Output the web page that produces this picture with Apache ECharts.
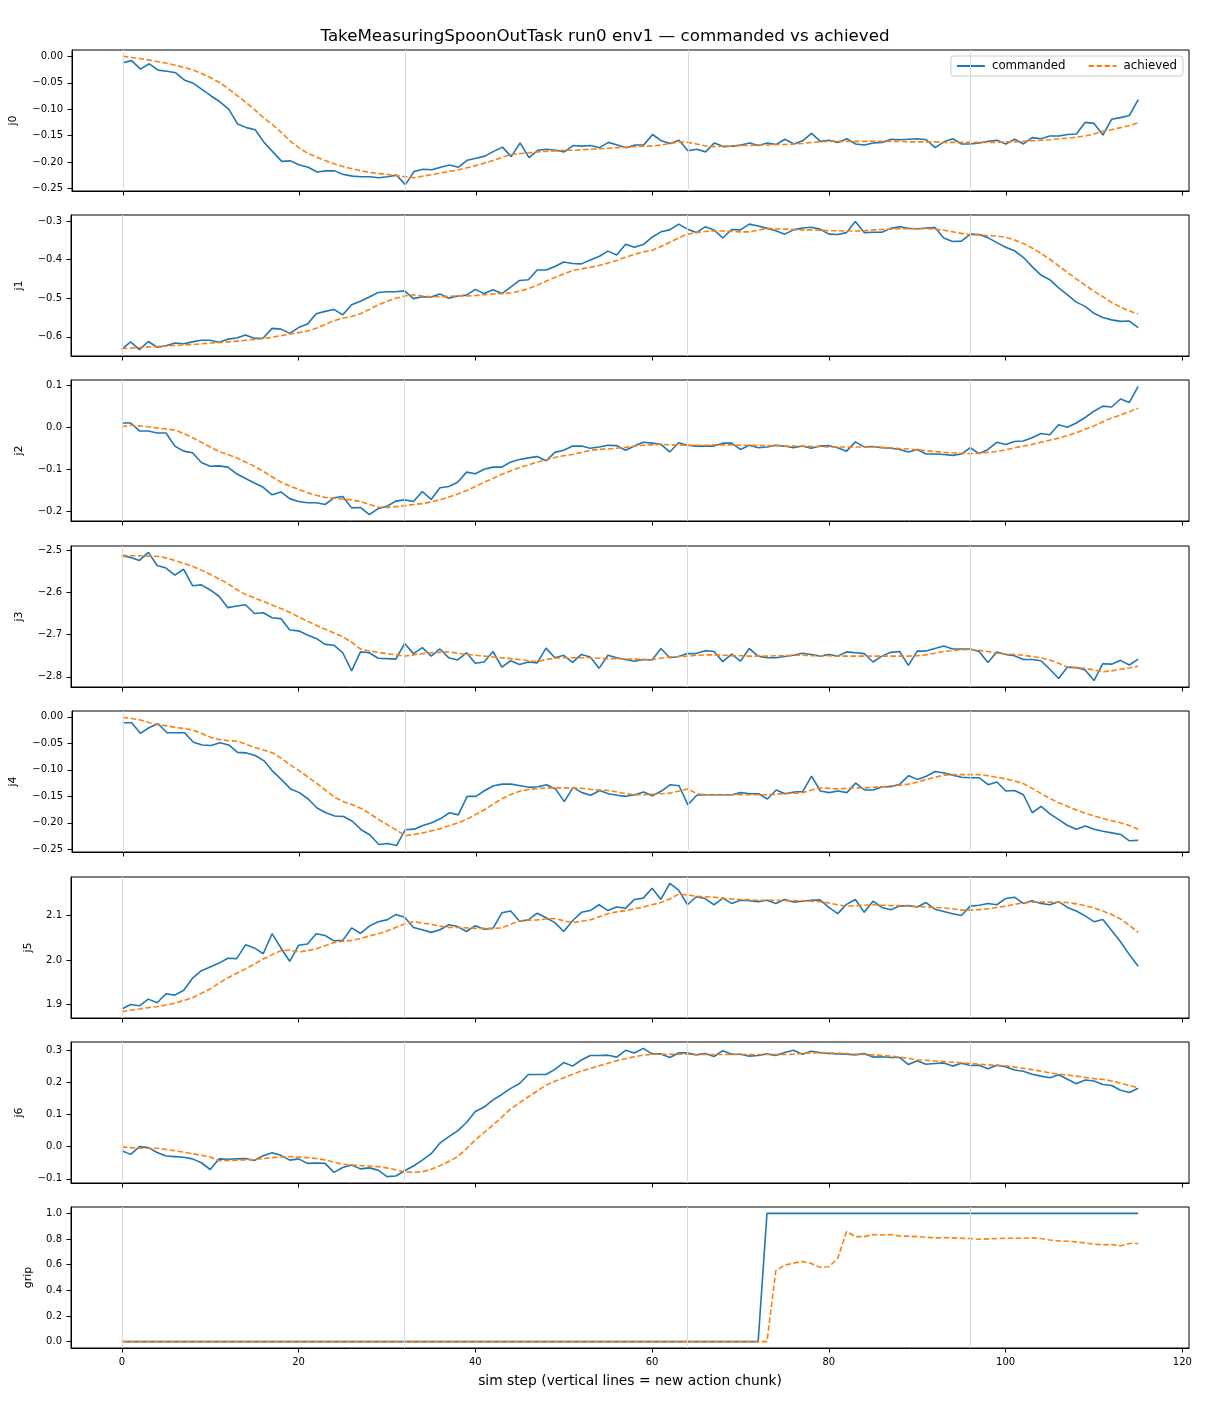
<!DOCTYPE html>
<html><head><meta charset="utf-8">
<script src="https://cdn.jsdelivr.net/npm/echarts@6/dist/echarts.min.js"></script>
<style>html,body{margin:0;padding:0;background:#fff}#c{width:1210px;height:1408px}</style>
</head><body><div id="c"></div>
<script>
const titleText = 'TakeMeasuringSpoonOutTask run0 env1 — commanded vs achieved';
const xLabel = 'sim step (vertical lines = new action chunk)';
const panelNames = ['j0','j1','j2','j3','j4','j5','j6','grip'];
const chunkStarts = [0, 32, 64, 96];
const xTicks = [0, 20, 40, 60, 80, 100, 120];

const j0Cmd = [-0.012,-0.008,-0.024,-0.014,-0.026,-0.028,-0.031,-0.045,-0.051,-0.063,
-0.075,-0.086,-0.100,-0.128,-0.135,-0.139,-0.163,-0.181,-0.199,-0.198,
-0.206,-0.210,-0.219,-0.217,-0.217,-0.224,-0.227,-0.228,-0.228,-0.230,
-0.228,-0.225,-0.243,-0.218,-0.214,-0.215,-0.210,-0.206,-0.210,-0.197,
-0.193,-0.189,-0.180,-0.172,-0.190,-0.164,-0.192,-0.178,-0.176,-0.178,
-0.181,-0.169,-0.170,-0.169,-0.173,-0.163,-0.168,-0.173,-0.168,-0.168,
-0.148,-0.160,-0.165,-0.159,-0.179,-0.176,-0.181,-0.164,-0.171,-0.170,
-0.168,-0.164,-0.169,-0.164,-0.167,-0.157,-0.166,-0.160,-0.146,-0.161,
-0.159,-0.163,-0.156,-0.166,-0.168,-0.164,-0.163,-0.157,-0.158,-0.157,
-0.156,-0.158,-0.173,-0.162,-0.156,-0.166,-0.166,-0.164,-0.161,-0.159,
-0.166,-0.157,-0.166,-0.154,-0.156,-0.151,-0.151,-0.148,-0.147,-0.125,
-0.127,-0.149,-0.119,-0.116,-0.112,-0.082];
const j0Ach = [0.000,-0.002,-0.004,-0.007,-0.010,-0.013,-0.017,-0.021,-0.026,-0.033,
-0.041,-0.050,-0.062,-0.075,-0.088,-0.102,-0.117,-0.130,-0.145,-0.161,
-0.174,-0.184,-0.191,-0.198,-0.204,-0.209,-0.213,-0.217,-0.220,-0.222,
-0.224,-0.226,-0.228,-0.230,-0.227,-0.224,-0.221,-0.218,-0.215,-0.211,
-0.207,-0.202,-0.197,-0.191,-0.186,-0.184,-0.183,-0.181,-0.180,-0.179,
-0.178,-0.178,-0.177,-0.176,-0.175,-0.174,-0.173,-0.172,-0.171,-0.170,
-0.170,-0.168,-0.165,-0.162,-0.163,-0.166,-0.170,-0.171,-0.170,-0.170,
-0.169,-0.169,-0.168,-0.168,-0.167,-0.167,-0.166,-0.165,-0.163,-0.162,
-0.161,-0.161,-0.161,-0.161,-0.161,-0.161,-0.161,-0.161,-0.161,-0.162,
-0.162,-0.162,-0.162,-0.163,-0.163,-0.163,-0.163,-0.163,-0.163,-0.163,
-0.162,-0.162,-0.161,-0.160,-0.159,-0.158,-0.156,-0.155,-0.153,-0.151,
-0.147,-0.142,-0.139,-0.135,-0.131,-0.126];

const j1Cmd = [-0.632,-0.613,-0.633,-0.612,-0.627,-0.623,-0.616,-0.618,-0.613,-0.609,
-0.609,-0.614,-0.606,-0.603,-0.595,-0.604,-0.603,-0.578,-0.580,-0.591,
-0.576,-0.567,-0.540,-0.534,-0.529,-0.543,-0.517,-0.508,-0.497,-0.485,
-0.483,-0.483,-0.481,-0.501,-0.496,-0.497,-0.489,-0.500,-0.494,-0.492,
-0.477,-0.488,-0.478,-0.488,-0.471,-0.454,-0.452,-0.427,-0.427,-0.418,
-0.406,-0.410,-0.411,-0.401,-0.392,-0.378,-0.388,-0.360,-0.368,-0.361,
-0.342,-0.328,-0.323,-0.308,-0.321,-0.330,-0.315,-0.323,-0.344,-0.322,
-0.323,-0.308,-0.313,-0.319,-0.325,-0.334,-0.323,-0.318,-0.316,-0.321,
-0.334,-0.335,-0.330,-0.301,-0.330,-0.329,-0.329,-0.319,-0.315,-0.319,
-0.320,-0.318,-0.317,-0.344,-0.353,-0.352,-0.334,-0.335,-0.343,-0.356,
-0.368,-0.377,-0.394,-0.418,-0.440,-0.452,-0.473,-0.491,-0.510,-0.521,
-0.539,-0.550,-0.556,-0.560,-0.559,-0.576];
const j1Ach = [-0.630,-0.629,-0.628,-0.626,-0.625,-0.624,-0.622,-0.621,-0.620,-0.618,
-0.616,-0.615,-0.613,-0.611,-0.609,-0.607,-0.605,-0.601,-0.597,-0.593,
-0.589,-0.585,-0.578,-0.568,-0.558,-0.552,-0.547,-0.540,-0.529,-0.517,
-0.508,-0.500,-0.494,-0.491,-0.494,-0.496,-0.496,-0.495,-0.494,-0.494,
-0.493,-0.491,-0.489,-0.488,-0.486,-0.482,-0.475,-0.466,-0.456,-0.446,
-0.437,-0.428,-0.424,-0.420,-0.415,-0.409,-0.402,-0.394,-0.386,-0.380,
-0.376,-0.366,-0.355,-0.344,-0.334,-0.330,-0.327,-0.326,-0.326,-0.327,
-0.328,-0.328,-0.324,-0.319,-0.320,-0.321,-0.322,-0.323,-0.323,-0.324,
-0.325,-0.325,-0.326,-0.326,-0.325,-0.323,-0.322,-0.321,-0.320,-0.320,
-0.320,-0.320,-0.321,-0.324,-0.328,-0.332,-0.335,-0.336,-0.338,-0.339,
-0.342,-0.349,-0.358,-0.370,-0.384,-0.399,-0.416,-0.433,-0.450,-0.466,
-0.482,-0.496,-0.511,-0.523,-0.533,-0.541];

const j2Cmd = [0.011,0.011,-0.008,-0.008,-0.013,-0.013,-0.044,-0.056,-0.060,-0.083,
-0.092,-0.091,-0.094,-0.110,-0.121,-0.132,-0.142,-0.160,-0.153,-0.169,
-0.176,-0.179,-0.179,-0.183,-0.167,-0.164,-0.191,-0.190,-0.207,-0.193,
-0.187,-0.175,-0.172,-0.176,-0.152,-0.171,-0.143,-0.140,-0.130,-0.106,
-0.110,-0.099,-0.094,-0.094,-0.082,-0.076,-0.072,-0.069,-0.079,-0.059,
-0.054,-0.044,-0.044,-0.049,-0.046,-0.042,-0.043,-0.054,-0.044,-0.035,
-0.037,-0.040,-0.058,-0.036,-0.042,-0.044,-0.044,-0.044,-0.037,-0.037,
-0.052,-0.042,-0.048,-0.046,-0.042,-0.044,-0.048,-0.044,-0.049,-0.044,
-0.043,-0.048,-0.056,-0.034,-0.046,-0.045,-0.048,-0.049,-0.052,-0.058,
-0.052,-0.063,-0.063,-0.064,-0.066,-0.063,-0.048,-0.062,-0.052,-0.035,
-0.040,-0.033,-0.032,-0.024,-0.014,-0.017,0.007,0.001,0.011,0.024,
0.039,0.051,0.049,0.068,0.060,0.098];
const j2Ach = [0.002,0.006,0.004,0.002,-0.001,-0.003,-0.006,-0.014,-0.024,-0.035,
-0.046,-0.057,-0.064,-0.072,-0.082,-0.092,-0.104,-0.117,-0.130,-0.139,
-0.147,-0.155,-0.161,-0.166,-0.168,-0.170,-0.172,-0.176,-0.183,-0.189,
-0.190,-0.188,-0.186,-0.183,-0.181,-0.177,-0.172,-0.165,-0.158,-0.150,
-0.140,-0.130,-0.121,-0.111,-0.103,-0.095,-0.089,-0.082,-0.077,-0.071,
-0.067,-0.064,-0.059,-0.054,-0.052,-0.051,-0.049,-0.047,-0.044,-0.042,
-0.041,-0.040,-0.041,-0.041,-0.042,-0.042,-0.042,-0.041,-0.041,-0.041,
-0.042,-0.042,-0.043,-0.043,-0.043,-0.044,-0.044,-0.044,-0.045,-0.045,
-0.046,-0.046,-0.046,-0.046,-0.046,-0.046,-0.047,-0.048,-0.050,-0.051,
-0.053,-0.055,-0.057,-0.059,-0.060,-0.061,-0.062,-0.061,-0.059,-0.057,
-0.053,-0.048,-0.044,-0.040,-0.035,-0.030,-0.025,-0.019,-0.012,-0.004,
0.004,0.014,0.023,0.030,0.038,0.046];

const j3Cmd = [-2.513,-2.517,-2.524,-2.505,-2.536,-2.542,-2.559,-2.545,-2.584,-2.582,
-2.594,-2.609,-2.636,-2.632,-2.629,-2.650,-2.648,-2.660,-2.662,-2.689,
-2.691,-2.701,-2.709,-2.723,-2.725,-2.743,-2.786,-2.741,-2.743,-2.756,
-2.757,-2.758,-2.721,-2.745,-2.731,-2.751,-2.734,-2.755,-2.760,-2.743,
-2.768,-2.765,-2.740,-2.777,-2.762,-2.771,-2.765,-2.767,-2.732,-2.755,
-2.749,-2.766,-2.747,-2.753,-2.780,-2.749,-2.755,-2.759,-2.763,-2.759,
-2.760,-2.733,-2.755,-2.752,-2.745,-2.745,-2.738,-2.740,-2.764,-2.746,
-2.763,-2.733,-2.751,-2.755,-2.755,-2.752,-2.749,-2.744,-2.747,-2.751,
-2.747,-2.751,-2.741,-2.743,-2.745,-2.765,-2.751,-2.742,-2.740,-2.773,
-2.739,-2.739,-2.733,-2.727,-2.734,-2.734,-2.734,-2.740,-2.766,-2.741,
-2.747,-2.750,-2.759,-2.759,-2.762,-2.782,-2.804,-2.777,-2.778,-2.784,
-2.809,-2.769,-2.770,-2.761,-2.772,-2.758];
const j3Ach = [-2.512,-2.513,-2.513,-2.514,-2.514,-2.518,-2.524,-2.531,-2.538,-2.547,
-2.557,-2.568,-2.579,-2.593,-2.605,-2.613,-2.621,-2.630,-2.638,-2.647,
-2.658,-2.668,-2.678,-2.687,-2.696,-2.705,-2.718,-2.734,-2.739,-2.742,
-2.745,-2.748,-2.751,-2.748,-2.745,-2.743,-2.742,-2.741,-2.744,-2.747,
-2.749,-2.751,-2.753,-2.755,-2.757,-2.759,-2.762,-2.764,-2.759,-2.756,
-2.755,-2.755,-2.755,-2.755,-2.756,-2.757,-2.757,-2.758,-2.758,-2.759,
-2.759,-2.756,-2.753,-2.752,-2.751,-2.749,-2.748,-2.748,-2.749,-2.750,
-2.750,-2.751,-2.751,-2.751,-2.750,-2.750,-2.749,-2.749,-2.750,-2.750,
-2.750,-2.751,-2.751,-2.751,-2.751,-2.751,-2.751,-2.751,-2.751,-2.751,
-2.750,-2.748,-2.744,-2.740,-2.738,-2.736,-2.736,-2.737,-2.740,-2.744,
-2.746,-2.747,-2.749,-2.752,-2.755,-2.760,-2.768,-2.777,-2.779,-2.780,
-2.784,-2.788,-2.786,-2.782,-2.779,-2.775];

const j4Cmd = [-0.011,-0.011,-0.031,-0.020,-0.013,-0.030,-0.030,-0.030,-0.048,-0.053,
-0.054,-0.049,-0.053,-0.067,-0.068,-0.073,-0.083,-0.103,-0.119,-0.136,
-0.143,-0.155,-0.172,-0.181,-0.187,-0.188,-0.197,-0.213,-0.223,-0.241,
-0.239,-0.243,-0.213,-0.212,-0.205,-0.200,-0.192,-0.181,-0.185,-0.150,
-0.150,-0.139,-0.130,-0.127,-0.127,-0.130,-0.133,-0.132,-0.128,-0.136,
-0.160,-0.133,-0.143,-0.148,-0.139,-0.145,-0.148,-0.150,-0.147,-0.142,
-0.149,-0.140,-0.128,-0.130,-0.166,-0.148,-0.147,-0.147,-0.147,-0.147,
-0.143,-0.145,-0.145,-0.155,-0.138,-0.145,-0.142,-0.141,-0.112,-0.140,
-0.143,-0.140,-0.143,-0.125,-0.138,-0.138,-0.132,-0.132,-0.127,-0.111,
-0.118,-0.112,-0.103,-0.106,-0.110,-0.114,-0.115,-0.115,-0.128,-0.123,
-0.140,-0.139,-0.147,-0.181,-0.169,-0.183,-0.194,-0.205,-0.212,-0.206,
-0.212,-0.216,-0.219,-0.222,-0.234,-0.233];
const j4Ach = [-0.001,-0.003,-0.006,-0.011,-0.015,-0.017,-0.020,-0.022,-0.025,-0.032,
-0.039,-0.043,-0.045,-0.046,-0.052,-0.058,-0.063,-0.068,-0.079,-0.091,
-0.102,-0.114,-0.126,-0.139,-0.152,-0.160,-0.166,-0.173,-0.183,-0.194,
-0.204,-0.214,-0.224,-0.222,-0.219,-0.215,-0.211,-0.205,-0.200,-0.193,
-0.184,-0.175,-0.164,-0.154,-0.146,-0.140,-0.137,-0.135,-0.134,-0.134,
-0.134,-0.134,-0.135,-0.137,-0.138,-0.139,-0.142,-0.145,-0.147,-0.147,
-0.146,-0.145,-0.144,-0.140,-0.136,-0.145,-0.147,-0.147,-0.147,-0.147,
-0.147,-0.147,-0.147,-0.147,-0.146,-0.145,-0.144,-0.143,-0.138,-0.134,
-0.135,-0.136,-0.135,-0.134,-0.134,-0.133,-0.132,-0.130,-0.129,-0.127,
-0.123,-0.118,-0.114,-0.110,-0.109,-0.109,-0.109,-0.109,-0.111,-0.114,
-0.117,-0.121,-0.126,-0.135,-0.145,-0.154,-0.162,-0.169,-0.176,-0.182,
-0.187,-0.192,-0.196,-0.200,-0.205,-0.212];

const j5Cmd = [1.890,1.900,1.897,1.912,1.904,1.924,1.921,1.932,1.959,1.976,
1.984,1.993,2.004,2.003,2.034,2.027,2.014,2.059,2.027,1.997,
2.033,2.036,2.059,2.055,2.043,2.044,2.072,2.060,2.076,2.086,
2.090,2.102,2.096,2.073,2.068,2.062,2.068,2.079,2.075,2.064,
2.077,2.069,2.071,2.106,2.110,2.087,2.090,2.105,2.095,2.084,
2.064,2.088,2.107,2.111,2.124,2.111,2.119,2.116,2.136,2.139,
2.161,2.136,2.172,2.157,2.124,2.142,2.138,2.124,2.139,2.127,
2.134,2.133,2.131,2.134,2.127,2.136,2.130,2.132,2.134,2.135,
2.118,2.104,2.125,2.136,2.107,2.132,2.118,2.113,2.121,2.122,
2.119,2.129,2.114,2.109,2.104,2.100,2.121,2.123,2.127,2.124,
2.138,2.141,2.127,2.133,2.127,2.124,2.131,2.118,2.110,2.099,
2.086,2.091,2.066,2.041,2.012,1.986];
const j5Ach = [1.884,1.887,1.890,1.893,1.895,1.899,1.903,1.909,1.915,1.925,
1.935,1.948,1.960,1.970,1.980,1.991,2.002,2.012,2.021,2.022,
2.018,2.021,2.025,2.032,2.039,2.042,2.044,2.048,2.054,2.059,
2.065,2.073,2.081,2.086,2.083,2.080,2.076,2.073,2.073,2.072,
2.071,2.071,2.071,2.072,2.080,2.088,2.089,2.090,2.092,2.093,
2.088,2.084,2.087,2.090,2.097,2.104,2.108,2.111,2.115,2.119,
2.124,2.129,2.137,2.148,2.146,2.143,2.142,2.141,2.139,2.137,
2.136,2.135,2.134,2.134,2.134,2.133,2.133,2.133,2.132,2.131,
2.128,2.124,2.121,2.122,2.123,2.124,2.123,2.122,2.122,2.121,
2.120,2.119,2.118,2.117,2.115,2.112,2.112,2.113,2.115,2.118,
2.121,2.125,2.128,2.130,2.130,2.130,2.130,2.129,2.126,2.122,
2.117,2.110,2.102,2.092,2.078,2.062];

const j6Cmd = [-0.013,-0.024,0.000,-0.003,-0.018,-0.029,-0.031,-0.033,-0.038,-0.050,
-0.071,-0.038,-0.039,-0.038,-0.037,-0.043,-0.028,-0.019,-0.027,-0.042,
-0.038,-0.052,-0.051,-0.052,-0.080,-0.065,-0.057,-0.069,-0.066,-0.073,
-0.093,-0.091,-0.075,-0.060,-0.042,-0.022,0.011,0.031,0.049,0.075,
0.109,0.123,0.145,0.162,0.181,0.196,0.224,0.224,0.224,0.240,
0.261,0.250,0.269,0.283,0.283,0.284,0.278,0.299,0.291,0.305,
0.288,0.288,0.277,0.291,0.291,0.285,0.289,0.280,0.298,0.287,
0.287,0.281,0.283,0.288,0.283,0.292,0.299,0.287,0.296,0.292,
0.289,0.288,0.287,0.285,0.289,0.278,0.279,0.277,0.277,0.255,
0.267,0.256,0.258,0.260,0.250,0.259,0.252,0.253,0.242,0.253,
0.248,0.238,0.234,0.225,0.219,0.214,0.223,0.209,0.195,0.207,
0.204,0.193,0.190,0.175,0.168,0.181];
const j6Ach = [-0.001,-0.003,-0.005,-0.005,-0.005,-0.009,-0.013,-0.017,-0.022,-0.027,
-0.032,-0.044,-0.043,-0.042,-0.041,-0.040,-0.037,-0.034,-0.032,-0.031,
-0.032,-0.034,-0.037,-0.041,-0.048,-0.055,-0.057,-0.059,-0.060,-0.062,
-0.066,-0.072,-0.078,-0.080,-0.078,-0.070,-0.059,-0.046,-0.031,-0.006,
0.021,0.044,0.067,0.092,0.117,0.136,0.155,0.173,0.191,0.203,
0.214,0.225,0.235,0.243,0.251,0.259,0.267,0.273,0.279,0.284,
0.287,0.287,0.287,0.287,0.287,0.286,0.286,0.286,0.286,0.286,
0.286,0.286,0.286,0.286,0.286,0.286,0.287,0.289,0.291,0.292,
0.291,0.290,0.289,0.287,0.286,0.285,0.283,0.281,0.278,0.274,
0.270,0.268,0.266,0.264,0.262,0.260,0.258,0.256,0.254,0.252,
0.251,0.247,0.243,0.239,0.234,0.229,0.225,0.222,0.219,0.215,
0.211,0.209,0.204,0.197,0.190,0.183];

const gripCmd = [0,0,0,0,0,0,0,0,0,0,
0,0,0,0,0,0,0,0,0,0,
0,0,0,0,0,0,0,0,0,0,
0,0,0,0,0,0,0,0,0,0,
0,0,0,0,0,0,0,0,0,0,
0,0,0,0,0,0,0,0,0,0,
0,0,0,0,0,0,0,0,0,0,
0,0,0,1,1,1,1,1,1,1,
1,1,1,1,1,1,1,1,1,1,
1,1,1,1,1,1,1,1,1,1,
1,1,1,1,1,1,1,1,1,1,
1,1,1,1,1,1];
const gripAch = [0,0,0,0,0,0,0,0,0,0,
0,0,0,0,0,0,0,0,0,0,
0,0,0,0,0,0,0,0,0,0,
0,0,0,0,0,0,0,0,0,0,
0,0,0,0,0,0,0,0,0,0,
0,0,0,0,0,0,0,0,0,0,
0,0,0,0,0,0,0,0,0,0,
0,0,0,0,0.553,0.597,0.612,0.625,0.610,0.579,
0.584,0.649,0.858,0.819,0.819,0.835,0.832,0.835,0.824,0.822,
0.819,0.814,0.809,0.811,0.809,0.806,0.804,0.798,0.801,0.804,
0.806,0.806,0.806,0.809,0.804,0.793,0.786,0.783,0.778,0.770,
0.760,0.755,0.757,0.747,0.765,0.765];

const yTicks = [
  [0, -0.05, -0.10, -0.15, -0.20, -0.25],
  [-0.3, -0.4, -0.5, -0.6],
  [0.1, 0.0, -0.1, -0.2],
  [-2.5, -2.6, -2.7, -2.8],
  [0, -0.05, -0.10, -0.15, -0.20, -0.25],
  [1.9, 2.0, 2.1],
  [-0.1, 0.0, 0.1, 0.2, 0.3],
  [0.0, 0.2, 0.4, 0.6, 0.8, 1.0]
];
const yDecimals = [2, 1, 1, 1, 2, 1, 1, 1];

const commanded = [j0Cmd, j1Cmd, j2Cmd, j3Cmd, j4Cmd, j5Cmd, j6Cmd, gripCmd];
const achieved = [j0Ach, j1Ach, j2Ach, j3Ach, j4Ach, j5Ach, j6Ach, gripAch];

// layout (pixels)
const panelTop = [50, 215, 380, 546, 711, 877, 1042, 1207];
const panelH = 141;
const yNameGap = [53, 46, 46, 46, 53, 37, 46, 37];

function yRange(a, b) {
  let lo = Infinity, hi = -Infinity;
  for (const v of a.concat(b)) { if (v < lo) lo = v; if (v > hi) hi = v; }
  const m = (hi - lo) * 0.05;
  return [lo - m, hi + m];
}
function fmt(dec) {
  return function (v) {
    const s = Math.abs(v).toFixed(dec);
    return (v < -1e-9 ? '\u2212' : '') + s;
  };
}

const FONT = 'DejaVu Sans';
const grids = [], xAxes = [], yAxes = [], series = [];
for (let i = 0; i < 8; i++) {
  const last = i === 7;
  grids.push({ left: 71, right: 21, top: panelTop[i], height: panelH, show: true,
    borderColor: '#000', borderWidth: 1, backgroundColor: 'transparent' });
  xAxes.push({
    type: 'value', gridIndex: i, min: -5.75, max: 120.75, position: 'bottom',
    axisLine: { show: true, onZero: false, lineStyle: { color: '#000', width: 1 } },
    axisTick: { show: true, inside: false, length: 4.5, lineStyle: { color: '#000', width: 1 }, customValues: xTicks },
    axisLabel: { show: last, customValues: xTicks, color: '#000', fontSize: 10, fontFamily: FONT, margin: 9 },
    splitLine: { show: false },
    name: last ? xLabel : '', nameLocation: 'middle', nameGap: 26,
    nameTextStyle: { color: '#000', fontSize: 13.8, fontFamily: FONT }
  });
  const r = yRange(commanded[i], achieved[i]);
  yAxes.push({
    type: 'value', gridIndex: i, min: r[0], max: r[1], scale: true, position: 'left',
    axisLine: { show: true, onZero: false, lineStyle: { color: '#000', width: 1 } },
    axisTick: { show: true, inside: false, length: 4.5, lineStyle: { color: '#000', width: 1 }, customValues: yTicks[i] },
    axisLabel: { show: true, customValues: yTicks[i], formatter: fmt(yDecimals[i]), color: '#000', fontSize: 10, fontFamily: FONT, margin: 9 },
    splitLine: { show: false },
    name: panelNames[i], nameLocation: 'middle', nameGap: yNameGap[i], nameRotate: 90,
    nameTextStyle: { color: '#000', fontSize: 11, fontFamily: FONT }
  });
  const cmdData = commanded[i].map((v, k) => [k, v]);
  const achData = achieved[i].map((v, k) => [k, v]);
  series.push({
    type: 'line', xAxisIndex: i, yAxisIndex: i, data: cmdData, symbol: 'none', silent: true, z: 1,
    lineStyle: { opacity: 0 }, legendHoverLink: false,
    markLine: { silent: true, symbol: ['none', 'none'], label: { show: false }, animation: false,
      lineStyle: { color: '#dadada', width: 1, type: 'solid' },
      data: chunkStarts.map(c => ({ xAxis: c })) }
  });
  series.push({
    name: 'commanded', type: 'line', xAxisIndex: i, yAxisIndex: i, data: cmdData,
    symbol: 'none', showSymbol: false, z: 3, lineStyle: { color: '#1f77b4', width: 1.6 }, itemStyle: { color: '#1f77b4' }
  });
  series.push({
    name: 'achieved', type: 'line', xAxisIndex: i, yAxisIndex: i, data: achData,
    symbol: 'none', showSymbol: false, z: 4, lineStyle: { color: '#ff7f0e', width: 1.6, type: [5.5, 2.5] }, itemStyle: { color: '#ff7f0e' }
  });
}

const chart = echarts.init(document.getElementById('c'), null, { renderer: 'canvas' });
chart.setOption({
  animation: false,
  backgroundColor: '#fff',
  title: { text: titleText, left: 'center', top: 23,
    textStyle: { color: '#000', fontSize: 16.7, fontWeight: 'normal', fontFamily: FONT } },
  legend: {
    data: ['commanded', 'achieved'], right: 27, top: 56, orient: 'horizontal',
    itemWidth: 28, itemHeight: 12, itemGap: 22, selectedMode: false,
    itemStyle: { opacity: 0, borderWidth: 0 },
    backgroundColor: 'rgba(255,255,255,0.85)', borderColor: '#cccccc', borderWidth: 1, borderRadius: 3,
    padding: [4, 6, 4, 5],
    textStyle: { color: '#000', fontSize: 11.8, fontFamily: FONT, padding: [0, 0, 0, 2] }
  },
  grid: grids, xAxis: xAxes, yAxis: yAxes, series: series
});
</script></body></html>
